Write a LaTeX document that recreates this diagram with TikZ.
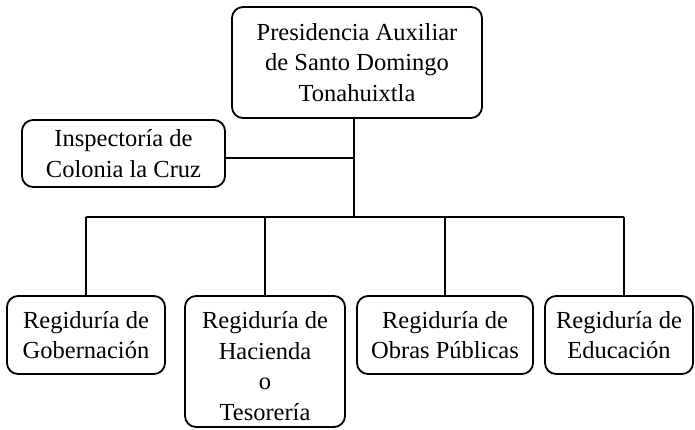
\documentclass[tikz,border=0pt]{standalone}
\usepackage{fontspec}
\setmainfont{Liberation Serif}
\begin{document}
\begin{tikzpicture}[x=1pt,y=-1pt,
  box/.style={draw,line width=1.8pt,rounded corners=11pt,align=center,inner sep=0pt,
    font=\fontsize{24.5}{30.5}\selectfont},
  conn/.style={line width=1.8pt}]
\useasboundingbox (0,0) rectangle (695,430);
\node[box,minimum width=250pt,minimum height=111pt] (top) at (357,62.5) {Presidencia Auxiliar\\de Santo Domingo\\Tonahuixtla};
\node[box,minimum width=203pt,minimum height=67pt] (insp) at (123.5,153.5) {Inspectoría de\\Colonia la Cruz};
\node[box,minimum width=158pt,minimum height=78pt] (gob) at (86,335) {Regiduría de\\Gobernación};
\node[box,minimum width=160pt,minimum height=131pt] (hac) at (265,361.5) {\\[-4pt]Regiduría de\\Hacienda\\o\\Tesorería};
\node[box,minimum width=176pt,minimum height=78pt] (obr) at (445,335) {Regiduría de\\Obras Públicas};
\node[box,minimum width=148pt,minimum height=78pt] (edu) at (619,335) {Regiduría de\\Educación};
\coordinate (j) at (354,217);
\coordinate (ij) at (354,158);
\coordinate (d1) at (86,217);
\coordinate (d2) at (265,217);
\coordinate (d3) at (445,217);
\coordinate (d4) at (624,217);
\draw[conn] (j |- top.south) -- (j);
\draw[conn] (ij -| insp.east) -- (ij);
\draw[conn] (d1) -- (d4);
\draw[conn] (d1) -- (d1 |- gob.north);
\draw[conn] (d2) -- (d2 |- hac.north);
\draw[conn] (d3) -- (d3 |- obr.north);
\draw[conn] (d4) -- (d4 |- edu.north);
\end{tikzpicture}
\end{document}
